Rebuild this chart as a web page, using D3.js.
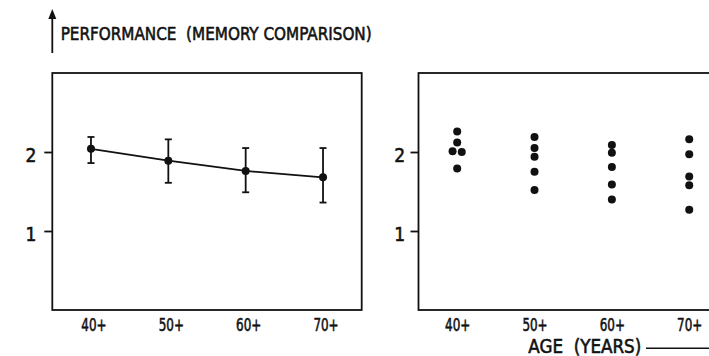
<!DOCTYPE html>
<html>
<head>
<meta charset="utf-8">
<script src="https://cdn.jsdelivr.net/npm/d3@7"></script>
<style>
  html, body { margin: 0; padding: 0; background: #fff; }
  svg { display: block; }
  text { font-family: "DejaVu Sans Condensed", "DejaVu Sans", sans-serif; fill: #111; stroke: #111; stroke-width: 0.55px; }
</style>
</head>
<body>
<svg id="chart" width="709" height="356"></svg>
<script>
// ---- data ----
const ageGroups = ["40+", "50+", "60+", "70+"];
const meanPerf  = [2.04, 1.89, 1.76, 1.68];
const errLow    = [1.86, 1.61, 1.49, 1.36];
const errHigh   = [2.19, 2.16, 2.05, 2.05];
const pts40 = [2.26, 2.12, 2.01, 2.00, 1.79];
const pts50 = [2.19, 2.05, 1.94, 1.75, 1.52];
const pts60 = [2.09, 1.99, 1.81, 1.59, 1.40];
const pts70 = [2.16, 1.97, 1.69, 1.58, 1.27];
const yTicks = [1, 2];
const yDomain = [0, 3];
const titleText = "PERFORMANCE\u00A0\u00A0(MEMORY COMPARISON)";
const xTitle = "AGE\u00A0\u00A0(YEARS)";

(function () {
const svg = d3.select("#chart");
const panelW = 309.4, yTop = 73, yBot = 310;
const panels = [{x0: 52.3, tickPad: 8, lblShift: 2.5}, {x0: 418.5, tickPad: 5.5, lblShift: 0}];
const y = d3.scaleLinear().domain(yDomain).range([yBot, yTop]);

const defs = svg.append("defs");
defs.append("clipPath").attr("id", "pageclip")
  .append("rect").attr("x", 0).attr("y", 0).attr("width", 709).attr("height", 356);

panels.forEach((p) => {
  p.x = d3.scalePoint().domain(ageGroups).range([p.x0, p.x0 + panelW]).padding(0.5);
  const g = svg.append("g");
  g.append("rect").attr("x", p.x0).attr("y", yTop).attr("width", panelW).attr("height", yBot - yTop)
    .attr("fill", "none").attr("stroke", "#111").attr("stroke-width", 1.8);
  const ya = g.append("g").attr("transform", `translate(${p.x0},0)`)
    .call(d3.axisLeft(y).tickValues(yTicks).tickSize(8).tickPadding(p.tickPad).tickFormat(d3.format("d")));
  ya.select(".domain").remove();
  ya.selectAll(".tick line").attr("stroke", "#111").attr("stroke-width", 1.8);
  ya.selectAll(".tick text").attr("font-size", 19).attr("dy", "0.5em").attr("fill", "#111")
    .attr("font-family", null);
  const xa = g.append("g").attr("transform", `translate(${p.lblShift},${yBot})`)
    .call(d3.axisBottom(p.x).tickSize(0).tickPadding(8));
  xa.select(".domain").remove();
  xa.selectAll(".tick text").attr("font-size", 18).attr("fill", "#111").attr("font-family", null)
    .attr("transform", "scale(0.74,1)");
});

// left panel: mean line with error bars
const L = panels[0];
const meanData = ageGroups.map((a, i) => ({a, m: meanPerf[i], lo: errLow[i], hi: errHigh[i]}));
svg.append("path").datum(meanData)
  .attr("d", d3.line().x(d => L.x(d.a)).y(d => y(d.m)))
  .attr("fill", "none").attr("stroke", "#111").attr("stroke-width", 1.8);
const eb = svg.append("g").selectAll("g").data(meanData).join("g");
eb.append("line").attr("x1", d => L.x(d.a)).attr("x2", d => L.x(d.a))
  .attr("y1", d => y(d.lo)).attr("y2", d => y(d.hi)).attr("stroke", "#111").attr("stroke-width", 1.8);
["lo", "hi"].forEach(k => {
  eb.append("line").attr("x1", d => L.x(d.a) - 3.5).attr("x2", d => L.x(d.a) + 3.5)
    .attr("y1", d => y(d[k])).attr("y2", d => y(d[k])).attr("stroke", "#111").attr("stroke-width", 1.8);
});
eb.append("circle").attr("cx", d => L.x(d.a)).attr("cy", d => y(d.m)).attr("r", 4).attr("fill", "#111");

// right panel: individual points (dodge nearly coincident values)
const R = panels[1];
const groups = [pts40, pts50, pts60, pts70];
const dotR = 4;
const dots = [];
groups.forEach((vals, gi) => {
  const sorted = vals.slice().sort((a, b) => b - a);
  const off = sorted.map(() => 0);
  for (let k = 1; k < sorted.length; k++) {
    if (Math.abs(y(sorted[k]) - y(sorted[k - 1])) < 3) { off[k - 1] = -dotR * 1.15; off[k] = dotR * 1.15; }
  }
  sorted.forEach((v, k) => dots.push({a: ageGroups[gi], v, dx: off[k]}));
});
svg.append("g").attr("clip-path", "url(#pageclip)").selectAll("circle").data(dots).join("circle")
  .attr("cx", d => R.x(d.a) + d.dx).attr("cy", d => y(d.v)).attr("r", dotR).attr("fill", "#111");

// y-axis title with arrow
svg.append("line").attr("x1", L.x0).attr("x2", L.x0).attr("y1", 53).attr("y2", 14)
  .attr("stroke", "#111").attr("stroke-width", 1.8);
svg.append("path").attr("d", `M${L.x0 - 4},19 L${L.x0},9 L${L.x0 + 4},19 Z`).attr("fill", "#111");
svg.append("text").attr("x", 60.7).attr("y", 39.5).attr("font-size", 18)
  .attr("textLength", 311).attr("lengthAdjust", "spacingAndGlyphs").text(titleText);

// x-axis title with line
svg.append("text").attr("x", 528.3).attr("y", 353).attr("font-size", 19)
  .attr("textLength", 113).attr("lengthAdjust", "spacingAndGlyphs").text(xTitle);
svg.append("line").attr("x1", 646).attr("x2", 709).attr("y1", 348.3).attr("y2", 348.3)
  .attr("stroke", "#111").attr("stroke-width", 1.4);
})();
</script>
</body>
</html>
